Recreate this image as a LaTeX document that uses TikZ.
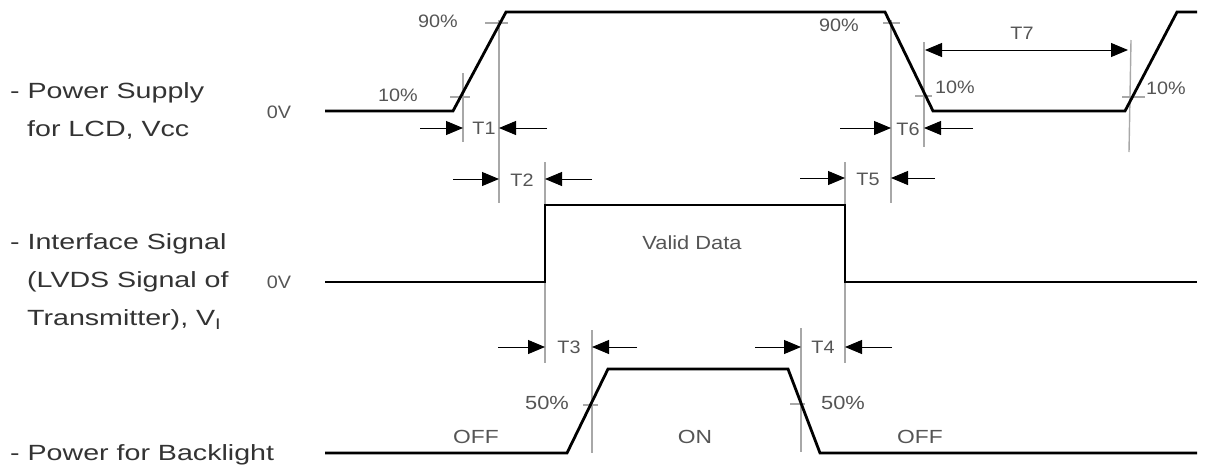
\documentclass[tikz,border=0pt]{standalone}
\usepackage{fontspec}
\setmainfont{Liberation Sans}
\usetikzlibrary{arrows.meta}
\newcommand\mywide[2]{\scalebox{#1}[1]{#2}}
\definecolor{txtdark}{HTML}{333333}
\definecolor{txtgray}{HTML}{555555}
\definecolor{guide}{HTML}{A8A8A8}
\tikzset{
  sig/.style={line width=2.8pt, black, line join=miter},
  guideline/.style={line width=1.4pt, guide},
  tickline/.style={line width=1.2pt, guide},
  dimarrow/.style={line width=1pt, black, -{Triangle[length=17pt,width=14pt]}},
  dimboth/.style={line width=1pt, black, {Triangle[length=17pt,width=14pt]}-{Triangle[length=17pt,width=14pt]}},
  biglabel/.style={anchor=west, inner sep=0pt, text=txtdark, font=\fontsize{22}{26}\selectfont},
  smalllabel/.style={inner sep=0pt, text=txtgray, font=\fontsize{18}{21}\selectfont},
  midlabel/.style={inner sep=0pt, text=txtgray, font=\fontsize{19}{22}\selectfont},
}
\begin{document}
\begin{tikzpicture}[x=1pt,y=-1pt]
\useasboundingbox (0,0) rectangle (1205,467);
% ---------- left labels ----------
\node[biglabel] (ps1) at (10,93) {\mywide{1.3}{- Power Supply}};
\node[biglabel] (ps2) at (27,130) {\mywide{1.3}{for LCD, Vcc}};
\node[biglabel] (if1) at (10,244) {\mywide{1.3}{- Interface Signal}};
\node[biglabel] (if2) at (27,282) {\mywide{1.3}{(LVDS Signal of}};
\node[biglabel] (if3) at (27,320) {\mywide{1.3}{Transmitter), V$_{\mathrm{I}}$}};
\node[biglabel] (bl1) at (10,455) {\mywide{1.3}{- Power for Backlight}};
\node[smalllabel] (zv1) at (279,112) {\mywide{1.1}{0V}};
\node[smalllabel] (zv2) at (279,282) {\mywide{1.1}{0V}};
% ---------- guide lines ----------
\coordinate (g1a) at (463,73);   \coordinate (g1b) at (463,142);
\coordinate (g2a) at (499,20);   \coordinate (g2b) at (499,203);
\coordinate (g3a) at (545,162);  \coordinate (g3b) at (545,363);
\coordinate (g4a) at (592,330);  \coordinate (g4b) at (592,453);
\coordinate (g5a) at (801,328);  \coordinate (g5b) at (801,452);
\coordinate (g6a) at (845,162);  \coordinate (g6b) at (845,363);
\coordinate (g7a) at (891,20);   \coordinate (g7b) at (891,203);
\coordinate (g8a) at (924,42);   \coordinate (g8b) at (924,147);
\coordinate (g9a) at (1131,40);  \coordinate (g9b) at (1129,152);
\foreach \i in {1,...,9} \draw[guideline] (g\i a) -- (g\i b);
% ticks
\draw[tickline] (450,97) -- (470,97);
\draw[tickline] (485,23) -- (508,23);
\draw[tickline] (883,23) -- (900,23);
\draw[tickline] (915,96) -- (932,96);
\draw[tickline] (1122,97) -- (1145,97);
\draw[tickline] (583,405) -- (598,405);
\draw[tickline] (790,404) -- (805,404);
% ---------- signals ----------
\draw[sig] (325,111) -- (453,111) -- (506,12) -- (885,12) -- (933,111) -- (1125,111) -- (1177,12) -- (1197,12);
\draw[sig] (325,282) -- (545,282) -- (545,205) -- (845,205) -- (845,282) -- (1197,282);
\draw[sig] (325,453) -- (567,453) -- (608,369) -- (788,369) -- (820,453) -- (1197,453);
% ---------- dimension arrows ----------
\coordinate (t1l) at (420,128); \coordinate (t1r) at (547,128);
\coordinate (t2l) at (453,179); \coordinate (t2r) at (592,179);
\coordinate (t5l) at (800,178); \coordinate (t5r) at (935,178);
\coordinate (t6l) at (840,128); \coordinate (t6r) at (973,128);
\coordinate (t3l) at (498,347); \coordinate (t3r) at (637,347);
\coordinate (t4l) at (755,347); \coordinate (t4r) at (892,347);
\draw[dimarrow] (t1l) -- (463,128);  \draw[dimarrow] (t1r) -- (499,128);
\draw[dimarrow] (t2l) -- (499,179);  \draw[dimarrow] (t2r) -- (545,179);
\draw[dimarrow] (t5l) -- (845,178);  \draw[dimarrow] (t5r) -- (891,178);
\draw[dimarrow] (t6l) -- (891,128);  \draw[dimarrow] (t6r) -- (924,128);
\draw[dimarrow] (t3l) -- (545,347);  \draw[dimarrow] (t3r) -- (592,347);
\draw[dimarrow] (t4l) -- (801,347);  \draw[dimarrow] (t4r) -- (845,347);
\draw[dimboth] (925,50) -- (1128,50);
% ---------- small labels ----------
\node[smalllabel] (p10a) at (398,95) {\mywide{1.1}{10\%}};
\node[smalllabel] (p90a) at (438,21) {\mywide{1.1}{90\%}};
\node[smalllabel] (p90b) at (839,25) {\mywide{1.1}{90\%}};
\node[smalllabel] (p10b) at (955,87) {\mywide{1.1}{10\%}};
\node[smalllabel] (p10c) at (1166,88) {\mywide{1.1}{10\%}};
\node[smalllabel] (lt7) at (1022,33) {\mywide{1.1}{T7}};
\node[smalllabel] (lt1) at (484,128) {\mywide{1.1}{T1}};
\node[smalllabel] (lt2) at (522,180) {\mywide{1.1}{T2}};
\node[smalllabel] (lt5) at (868,179) {\mywide{1.1}{T5}};
\node[smalllabel] (lt6) at (908,129) {\mywide{1.1}{T6}};
\node[smalllabel] (lt3) at (569,347) {\mywide{1.1}{T3}};
\node[smalllabel] (lt4) at (823,347) {\mywide{1.1}{T4}};
\node[midlabel] (p50a) at (547,403) {\mywide{1.15}{50\%}};
\node[midlabel] (p50b) at (843,403) {\mywide{1.15}{50\%}};
\node[midlabel] (off1) at (476,437) {\mywide{1.2}{OFF}};
\node[midlabel] (on1) at (695,437) {\mywide{1.2}{ON}};
\node[midlabel] (off2) at (920,437) {\mywide{1.2}{OFF}};
\node[midlabel] (vd) at (692,243) {\mywide{1.15}{Valid Data}};
\end{tikzpicture}
\end{document}
